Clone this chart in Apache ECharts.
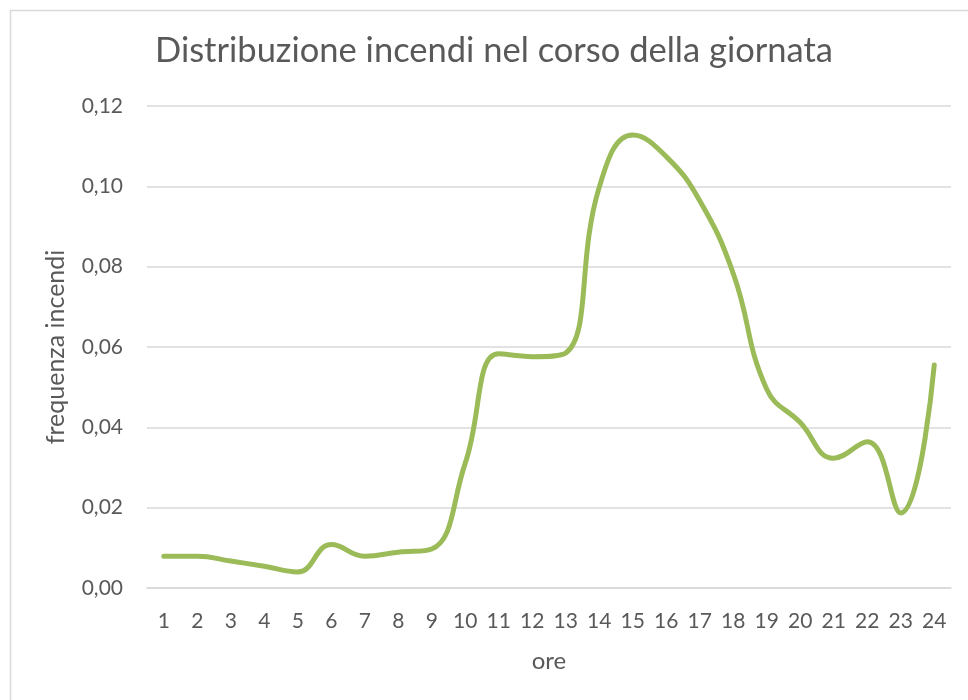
<!DOCTYPE html>
<html>
<head>
<meta charset="utf-8">
<script src="https://cdn.jsdelivr.net/npm/echarts@6/dist/echarts.min.js"></script>
<style>
html,body{margin:0;padding:0;background:#fff;overflow:hidden;}
#chart{width:968px;height:700px;}
</style>
</head>
<body>
<div id="chart"></div>
<script>
const hours = ['1','2','3','4','5','6','7','8','9','10','11','12','13','14','15','16','17','18','19','20','21','22','23','24'];
const frequency = [0.0079, 0.0079, 0.0067, 0.0054, 0.0040, 0.0108, 0.0079, 0.0089, 0.0097, 0.0311, 0.0583, 0.0576, 0.0585, 0.0998, 0.1128, 0.1074, 0.0964, 0.0783, 0.0495, 0.0412, 0.0323, 0.0364, 0.0187, 0.0555];
const yTicks = { min: 0, max: 0.12, interval: 0.02 };

const chart = echarts.init(document.getElementById('chart'));
const fontFam = 'Lato, "Open Sans", sans-serif';
chart.setOption({
  animation: false,
  backgroundColor: '#ffffff',
  graphic: [{
    type: 'rect', left: 8, top: 8,
    shape: { width: 1100, height: 800 },
    style: { fill: 'none', stroke: '#d9d9d9', lineWidth: 1.5 },
    silent: true
  }],
  title: {
    text: 'Distribuzione incendi nel corso della giornata',
    left: 150, top: 28,
    textStyle: { fontFamily: fontFam, fontSize: 34.5, fontWeight: 'normal', color: '#595959' }
  },
  grid: { left: 147, right: 17, top: 106, bottom: 112 },
  xAxis: {
    type: 'category',
    data: hours,
    boundaryGap: true,
    name: 'ore',
    nameLocation: 'middle',
    nameGap: 61,
    nameTextStyle: { fontFamily: fontFam, fontSize: 24, color: '#595959' },
    axisLine: { show: true, lineStyle: { color: '#d9d9d9', width: 1.5 } },
    axisTick: { show: false },
    axisLabel: { fontFamily: fontFam, fontSize: 21, color: '#595959', margin: 23 }
  },
  yAxis: {
    type: 'value',
    min: yTicks.min, max: yTicks.max, interval: yTicks.interval,
    name: 'frequenza incendi',
    nameLocation: 'middle',
    nameGap: 79,
    nameTextStyle: { fontFamily: fontFam, fontSize: 25, color: '#595959' },
    axisLine: { show: false },
    axisTick: { show: false },
    splitLine: { lineStyle: { color: '#d9d9d9', width: 1.5 } },
    axisLabel: {
      fontFamily: fontFam, fontSize: 21, color: '#595959', margin: 24,
      formatter: v => v.toFixed(2).replace('.', ',')
    }
  },
  series: [{
    type: 'line',
    data: frequency,
    smooth: 0.45,
    showSymbol: false,
    lineStyle: { color: '#9bbb59', width: 5, cap: 'round' },
    itemStyle: { color: '#9bbb59' }
  }]
});
</script>
</body>
</html>
